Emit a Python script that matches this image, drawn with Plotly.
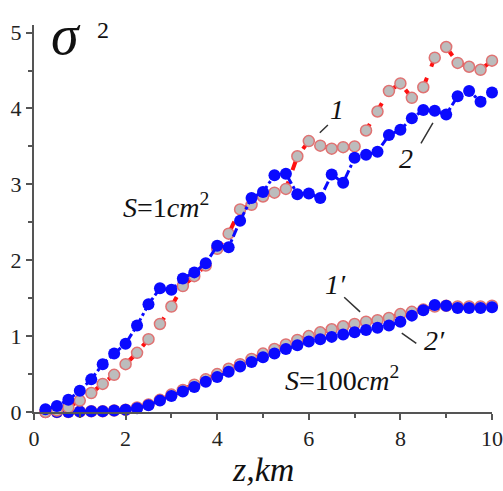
import plotly.graph_objects as go

z_km = [0.25, 0.5, 0.75, 1.0, 1.25, 1.5, 1.75, 2.0, 2.25, 2.5, 2.75, 3.0, 3.25, 3.5, 3.75, 4.0,
        4.25, 4.5, 4.75, 5.0, 5.25, 5.5, 5.75, 6.0, 6.25, 6.5, 6.75, 7.0, 7.25, 7.5, 7.75, 8.0,
        8.25, 8.5, 8.75, 9.0, 9.25, 9.5, 9.75, 10.0]

# S = 1 cm^2
curve_1 = [0.0, 0.02, 0.06, 0.15, 0.25, 0.37, 0.49, 0.63, 0.78, 0.96, 1.16, 1.39, 1.66, 1.79, 1.93, 2.15,
           2.35, 2.67, 2.73, 2.84, 2.89, 2.94, 3.37, 3.57, 3.51, 3.47, 3.49, 3.50, 3.71, 3.96, 4.23, 4.33,
           4.14, 4.28, 4.67, 4.81, 4.60, 4.55, 4.51, 4.63]
curve_2 = [0.035, 0.08, 0.16, 0.28, 0.43, 0.63, 0.77, 0.90, 1.14, 1.42, 1.63, 1.61, 1.76, 1.84, 1.96, 2.19,
           2.17, 2.52, 2.82, 2.90, 3.12, 3.14, 2.87, 2.88, 2.82, 3.13, 3.02, 3.35, 3.39, 3.43, 3.65, 3.72,
           3.87, 3.98, 3.97, 3.92, 4.16, 4.23, 4.09, 4.21]

# S = 100 cm^2
curve_1p = [0.0, 0.0, 0.0, 0.005, 0.01, 0.01, 0.02, 0.03, 0.06, 0.10, 0.16, 0.23, 0.29, 0.36, 0.43, 0.50,
            0.57, 0.63, 0.70, 0.77, 0.83, 0.89, 0.95, 1.00, 1.05, 1.09, 1.13, 1.16, 1.19, 1.21, 1.24, 1.29,
            1.32, 1.35, 1.39, 1.40, 1.39, 1.39, 1.39, 1.40]
curve_2p = [0.0, 0.0, 0.0, 0.005, 0.01, 0.01, 0.02, 0.03, 0.05, 0.09, 0.15, 0.21, 0.27, 0.33, 0.40, 0.46,
            0.53, 0.60, 0.66, 0.72, 0.77, 0.83, 0.88, 0.93, 0.96, 0.99, 1.02, 1.05, 1.08, 1.11, 1.14, 1.19,
            1.27, 1.34, 1.41, 1.40, 1.37, 1.37, 1.37, 1.38]

x_ticks = [0, 2, 4, 6, 8, 10]
y_ticks = [0, 1, 2, 3, 4, 5]

SERIF = "Liberation Serif"
RED = "#ff1010"
GRAY = "#bcbcbc"
REDEDGE = "#e07272"
BLUE = "#0a0aff"
AXIS = "#555555"

fig = go.Figure()

def add_gray(y):
    fig.add_trace(go.Scatter(
        x=z_km, y=y, mode="lines+markers",
        line=dict(color=RED, width=4, dash="dash"),
        marker=dict(size=11, color=GRAY, line=dict(color=REDEDGE, width=1.5)),
        showlegend=False, cliponaxis=False, hoverinfo="skip"))

def add_blue(y):
    fig.add_trace(go.Scatter(
        x=z_km, y=y, mode="lines+markers",
        line=dict(color=BLUE, width=3, dash="dashdot"),
        marker=dict(size=12, color=BLUE),
        showlegend=False, cliponaxis=False, hoverinfo="skip"))

add_gray(curve_1p)
add_blue(curve_2p)
add_gray(curve_1)
add_blue(curve_2)

tickfont = dict(family=SERIF, size=22, color="#222222")

fig.update_xaxes(
    range=[0, 10.0], tickvals=x_ticks, ticktext=[str(v) for v in x_ticks], automargin=False,
    showline=True, linecolor=AXIS, linewidth=2, showgrid=False, zeroline=False,
    ticks="outside", ticklen=6, tickwidth=2, tickcolor=AXIS, tickfont=tickfont,
    minor=dict(tickvals=[1, 3, 5, 7, 9], ticks="outside", ticklen=4, tickwidth=2, tickcolor=AXIS),
)
fig.update_yaxes(
    range=[0, 5.1], tickvals=y_ticks, ticktext=[str(v) for v in y_ticks], automargin=False,
    showline=True, linecolor=AXIS, linewidth=2, showgrid=False, zeroline=False,
    ticks="outside", ticklen=6, tickwidth=2, tickcolor=AXIS, tickfont=tickfont,
    minor=dict(tickvals=[0.5, 1.5, 2.5, 3.5, 4.5], ticks="outside", ticklen=4, tickwidth=2, tickcolor=AXIS),
)

C = "#111111"
ann = []
ann.append(dict(xref="paper", yref="paper", x=0.5, y=0, yshift=-57, xanchor="center", yanchor="middle",
                text="<i>z,km</i>", showarrow=False, font=dict(family=SERIF, size=34, color=C)))
ann.append(dict(xref="x", yref="y", x=0.7, y=4.97, xanchor="center", yanchor="middle",
                text="<i>σ</i>", showarrow=False, font=dict(family=SERIF, size=56, color=C)))
ann.append(dict(xref="x", yref="y", x=1.5, y=5.03, xanchor="center", yanchor="middle",
                text="2", showarrow=False, font=dict(family=SERIF, size=24, color=C)))
ann.append(dict(xref="x", yref="y", x=2.88, y=2.72, xanchor="center", yanchor="middle",
                text="<i>S</i>=1<i>cm</i><sup>2</sup>", showarrow=False,
                font=dict(family=SERIF, size=28, color=C)))
ann.append(dict(xref="x", yref="y", x=6.72, y=0.44, xanchor="center", yanchor="middle",
                text="<i>S</i>=100<i>cm</i><sup>2</sup>", showarrow=False,
                font=dict(family=SERIF, size=28, color=C)))
# curve labels with leader lines
ann.append(dict(xref="x", yref="y", x=6.24, y=3.68, ax=6.45, ay=3.80, axref="x", ayref="y",
                text="", showarrow=True, arrowhead=0, arrowwidth=1.5, arrowcolor="#333333"))
ann.append(dict(xref="x", yref="y", x=6.62, y=3.98, text="<i>1</i>", showarrow=False,
                font=dict(family=SERIF, size=28, color=C)))
ann.append(dict(xref="x", yref="y", x=8.71, y=3.81, ax=8.43, ay=3.52, axref="x", ayref="y",
                text="", showarrow=True, arrowhead=0, arrowwidth=1.5, arrowcolor="#333333"))
ann.append(dict(xref="x", yref="y", x=8.12, y=3.34, text="<i>2</i>", showarrow=False,
                font=dict(family=SERIF, size=28, color=C)))
ann.append(dict(xref="x", yref="y", x=7.12, y=1.32, ax=6.74, ay=1.53, axref="x", ayref="y",
                text="", showarrow=True, arrowhead=0, arrowwidth=1.5, arrowcolor="#333333"))
ann.append(dict(xref="x", yref="y", x=6.58, y=1.68, text="<i>1′</i>", showarrow=False,
                font=dict(family=SERIF, size=28, color=C)))
ann.append(dict(xref="x", yref="y", x=8.03, y=1.04, ax=8.38, ay=0.89, axref="x", ayref="y",
                text="", showarrow=True, arrowhead=0, arrowwidth=1.5, arrowcolor="#333333"))
ann.append(dict(xref="x", yref="y", x=8.74, y=0.94, text="<i>2′</i>", showarrow=False,
                font=dict(family=SERIF, size=28, color=C)))

fig.update_layout(
    width=503, height=491,
    margin=dict(l=34, r=11, t=25, b=79, autoexpand=False),
    plot_bgcolor="white", paper_bgcolor="white",
    annotations=ann,
    hovermode=False,
)

fig.write_html("out.html", config={"displayModeBar": False},
               post_script="document.body.style.margin='0';")
